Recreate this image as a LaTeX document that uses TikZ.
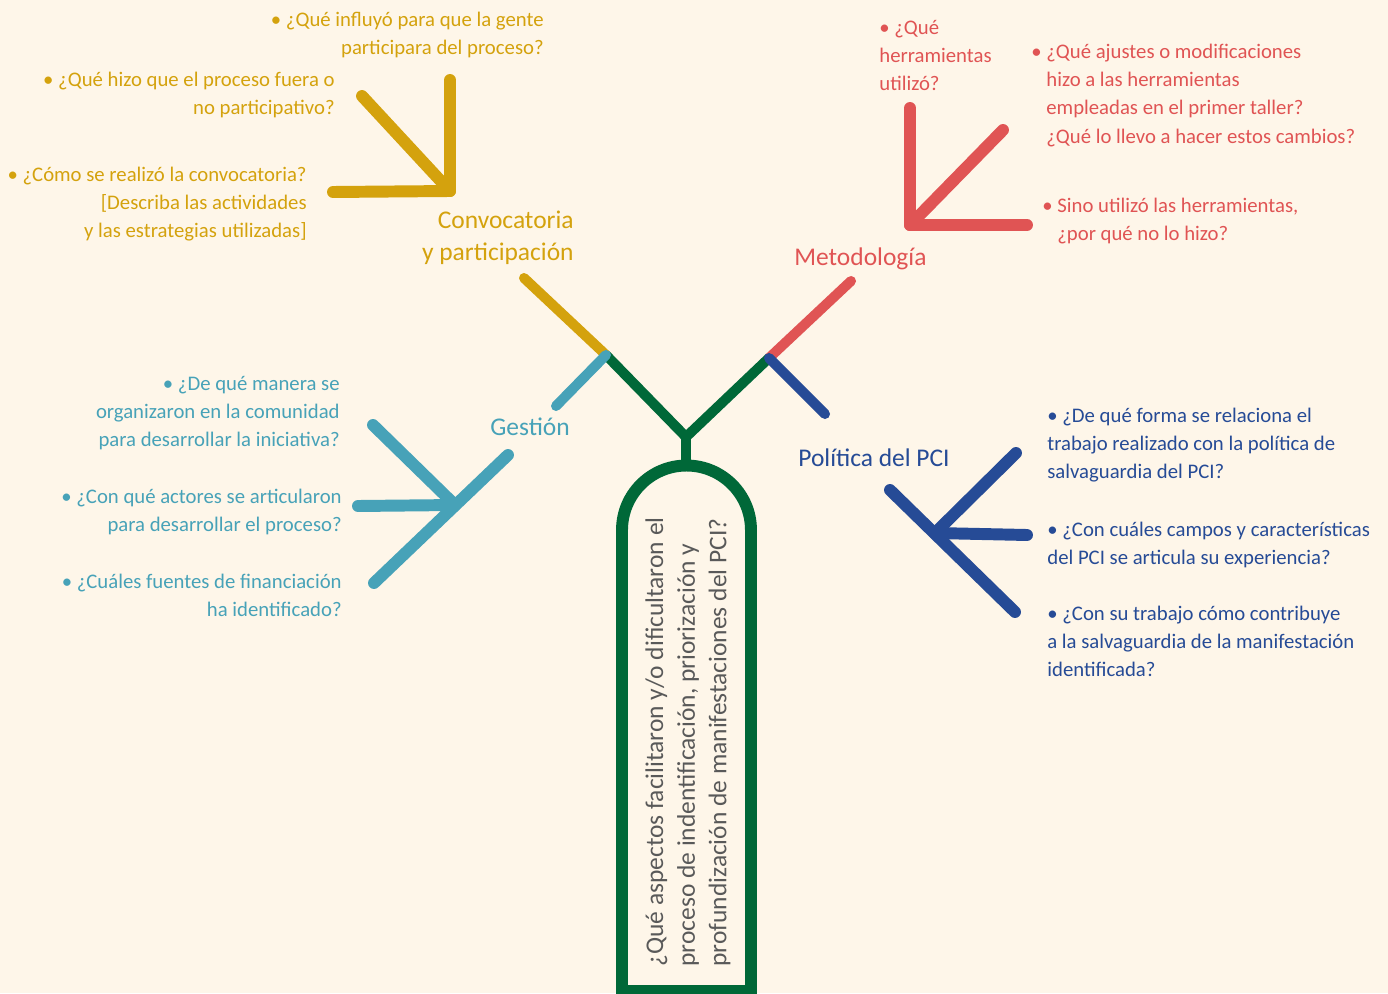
\documentclass[tikz,border=0pt]{standalone}
\usepackage{fontspec}
\setmainfont{Carlito}
\definecolor{crema}{HTML}{FEF6E9}
\definecolor{verde}{HTML}{006838}
\definecolor{amarillo}{HTML}{D4A20D}
\definecolor{rojo}{HTML}{E05454}
\definecolor{turquesa}{HTML}{47A2B8}
\definecolor{azul}{HTML}{264B96}
\definecolor{gris}{HTML}{595959}
\begin{document}
\begin{tikzpicture}[x=0.02cm,y=-0.02cm,
  rama/.style={line width=5.7pt,line cap=round},
  flecha/.style={line width=6.8pt,line cap=round,line join=round},
  pregunta/.style={inner sep=0pt,font=\fontsize{11.8}{16}\selectfont},
  titulo/.style={inner sep=0pt,font=\fontsize{14.5}{18}\selectfont}]
\useasboundingbox (0,0) rectangle (1388,993);
\fill[crema] (0,0) rectangle (1388,993);

\coordinate (izq) at (606,355);
\coordinate (der) at (769,358);
\coordinate (union) at (686,437);
\coordinate (tope) at (686,466);

% ramas
\coordinate (convR) at (524,278);
\coordinate (metR) at (851,281);
\coordinate (gesR) at (556,406);
\coordinate (polR) at (825,414);
\path[draw=amarillo,rama] (izq) -- (convR);
\path[draw=rojo,rama] (der) -- (metR);
\path[draw=verde,line width=5.7pt] (izq) -- (union) -- (der);
\path[draw=verde,line width=5.7pt] (union) -- (tope);
\path[draw=turquesa,rama] (izq) -- (gesR);
\path[draw=azul,rama] (der) -- (polR);

% tronco
\path[draw=verde,line width=6.8pt] (622,991) -- (622,530) arc[start angle=180,end angle=0,radius=1.29cm] -- (751,991) -- cycle;
\node[rotate=90,anchor=west,align=left,inner sep=0pt,text=gris,font=\fontsize{14.5}{18}\selectfont] (tema) at (688,967)
  {¿Qué aspectos facilitaron y/o dificultaron el\\proceso de indentificación, priorización y\\profundización de manifestaciones del PCI?};

% Convocatoria
\coordinate (cO) at (450,191);
\coordinate (cN) at (450,80);
\coordinate (cNO) at (362,96);
\coordinate (cO2) at (333,192);
\path[draw=amarillo,flecha] (cN) -- (cO) -- (cO2);
\path[draw=amarillo,flecha] (cNO) -- (cO);
\node[pregunta,text=amarillo,anchor=north east,align=right] (c1) at (544,12) {• ¿Qué influyó para que la gente\\participara del proceso?};
\node[pregunta,text=amarillo,anchor=north east,align=right] (c2) at (335,72) {• ¿Qué hizo que el proceso fuera o\\no participativo?};
\node[pregunta,text=amarillo,anchor=north east,align=right] (c3) at (307,167) {• ¿Cómo se realizó la convocatoria?\\{[}Describa las actividades\\y las estrategias utilizadas{]}};
\node[titulo,text=amarillo,anchor=north east,align=right] (conv) at (574,211) {Convocatoria\\y participación};

% Metodologia
\coordinate (mO) at (910,225);
\coordinate (mN) at (910,108);
\coordinate (mNE) at (1003,130);
\coordinate (mE) at (1027,225);
\path[draw=rojo,flecha] (mN) -- (mO) -- (mE);
\path[draw=rojo,flecha] (mNE) -- (mO);
\node[pregunta,text=rojo,anchor=north west,align=left] (m1) at (879,20) {• ¿Qué\\herramientas\\utilizó?};
\node[pregunta,text=rojo,anchor=north west,align=left] (m2) at (1046,44) {\llap{• }¿Qué ajustes o modificaciones\\hizo a las herramientas\\empleadas en el primer taller?\\¿Qué lo llevo a hacer estos cambios?};
\node[pregunta,text=rojo,anchor=north west,align=left] (m3) at (1057,198) {\llap{• }Sino utilizó las herramientas,\\¿por qué no lo hizo?};
\node[titulo,text=rojo,anchor=north west] (met) at (794,247) {Metodología};

% Gestion
\coordinate (gO) at (455,505);
\coordinate (gNO) at (373,425);
\coordinate (gNE) at (508,455);
\coordinate (gSO) at (374,583);
\coordinate (gE) at (358,506);
\path[draw=turquesa,flecha] (gNO) -- (gO);
\path[draw=turquesa,flecha] (gE) -- (gO);
\path[draw=turquesa,flecha] (gNE) -- (gSO);
\node[pregunta,text=turquesa,anchor=north east,align=right] (g1) at (340,376) {• ¿De qué manera se\\organizaron en la comunidad\\para desarrollar la iniciativa?};
\node[pregunta,text=turquesa,anchor=north east,align=right] (g2) at (342,489) {• ¿Con qué actores se articularon\\para desarrollar el proceso?};
\node[pregunta,text=turquesa,anchor=north east,align=right] (g3) at (342,574) {• ¿Cuáles fuentes de financiación\\ha identificado?};
\node[titulo,text=turquesa,anchor=north west] (ges) at (490,418) {Gestión};

% Politica del PCI
\coordinate (pO) at (935,533);
\coordinate (pNO) at (890,490);
\coordinate (pSE) at (1015,612);
\coordinate (pNE) at (1016,453);
\coordinate (pE) at (1027,535);
\path[draw=azul,flecha] (pNO) -- (pSE);
\path[draw=azul,flecha] (pNE) -- (pO);
\path[draw=azul,flecha] (pE) -- (pO);
\node[pregunta,text=azul,anchor=north west,align=left] (p1) at (1047,408) {• ¿De qué forma se relaciona el\\trabajo realizado con la política de\\salvaguardia del PCI?};
\node[pregunta,text=azul,anchor=north west,align=left] (p2) at (1047,522) {• ¿Con cuáles campos y características\\del PCI se articula su experiencia?};
\node[pregunta,text=azul,anchor=north west,align=left] (p3) at (1047,606) {• ¿Con su trabajo cómo contribuye\\a la salvaguardia de la manifestación\\identificada?};
\node[titulo,text=azul,anchor=north west] (pol) at (798,448) {Política del PCI};
\end{tikzpicture}
\end{document}
